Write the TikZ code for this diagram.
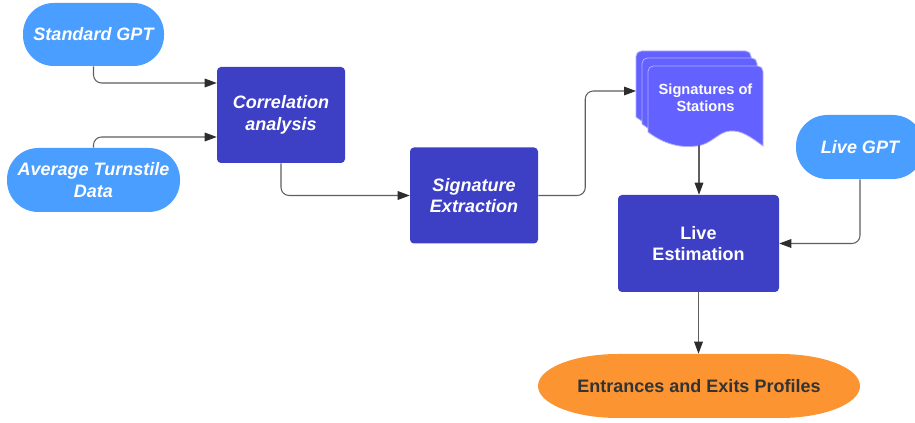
\documentclass[tikz,border=0pt]{standalone}
\usepackage{fontspec}
\setmainfont{Liberation Sans}
\usetikzlibrary{arrows.meta}
\definecolor{lblue}{RGB}{74,158,255}
\definecolor{dblue}{RGB}{61,64,196}
\definecolor{docblue}{RGB}{99,97,255}
\definecolor{docedge}{RGB}{175,175,255}
\definecolor{orng}{RGB}{252,148,49}
\definecolor{txtdark}{RGB}{51,51,51}
\definecolor{linegray}{RGB}{95,95,95}
\definecolor{tipgray}{RGB}{45,45,45}
\newcommand{\docpage}{(648,132) [rounded corners=4pt] -- (648,66) -- (763,66) -- (763,100) [sharp corners] -- (763,146)
  .. controls (752,138) and (742,130) .. (730,131)
  .. controls (718,132) and (712,144) .. (697,146)
  .. controls (682,148) and (665,145) .. (648,132) -- cycle}
\begin{document}
\begin{tikzpicture}[x=0.75pt,y=-0.75pt,
  bigfont/.style={font=\fontsize{13.5}{16}\selectfont\bfseries},
  bigitfont/.style={font=\fontsize{13.5}{16}\selectfont\bfseries\itshape},
  pill/.style={fill=lblue, text=white, bigitfont, align=center, inner sep=0pt},
  box/.style={fill=dblue, rounded corners=3pt, text=white, align=center, inner sep=0pt,
              minimum width=96pt, minimum height=72pt},
  page/.style={fill=docblue, draw=docedge, line width=0.6pt},
  conn/.style={draw=linegray, line width=0.8pt, rounded corners=6pt,
               -{Triangle[length=9pt,width=6.5pt,color=tipgray]}}]
\clip (0,0) rectangle (915,423);
\fill[white] (0,0) rectangle (915,423);

% input pills
\node[pill, rounded corners=23pt, minimum width=105.75pt, minimum height=47.25pt] (sgpt) at (93.5,34.5) {Standard GPT};
\node[pill, rounded corners=23.5pt, minimum width=129.75pt, minimum height=48pt] (atd) at (93.5,180) {Average Turnstile\\Data};
\node[pill, rounded corners=23.5pt, minimum width=96pt, minimum height=48pt] (lgpt) at (860,147) {Live GPT};

% process boxes
\node[box, bigitfont] (corr) at (281,115) {Correlation\\analysis};
\node[box, bigitfont] (sigex) at (474,195.5) {Signature\\Extraction};
\node[box, bigfont, minimum width=120.75pt, minimum height=72.75pt] (live) at (698.5,243.5) {Live\\Estimation};

% stacked documents
\path[page, shift={(-12,-15)}] \docpage;
\path[page, shift={(-6,-8)}] \docpage;
\path[page] \docpage;
\node[text=white, font=\fontsize{11}{12.75}\selectfont\bfseries, align=center] (doc) at (705.5,97.5) {Signatures of\\Stations};
\coordinate (docin) at (636,91);
\coordinate (docout) at (699,145);

% output terminator
\fill[orng] (618,354) -- (780,354) arc[start angle=90, end angle=-90, x radius=60pt, y radius=24pt]
  -- (618,418) arc[start angle=270, end angle=90, x radius=60pt, y radius=24pt] -- cycle;
\node[text=txtdark, bigfont, minimum height=48pt, minimum width=241.5pt, inner sep=0pt] (out) at (699,386) {Entrances and Exits Profiles};

% connectors
\draw[conn] (sgpt.south) |- ([yshift=24pt]corr.west);
\draw[conn] (atd.north) |- ([yshift=-16.5pt]corr.west);
\draw[conn] (corr.south) |- (sigex.west);
\draw[conn] (sigex.east) -- ++(47,0) |- (docin);
\draw[conn] (docout) -- (docout |- live.north);
\draw[conn] (lgpt.south) |- (live.east);
\draw[conn] (live.south) -- (live.south |- out.north);
\end{tikzpicture}
\end{document}
